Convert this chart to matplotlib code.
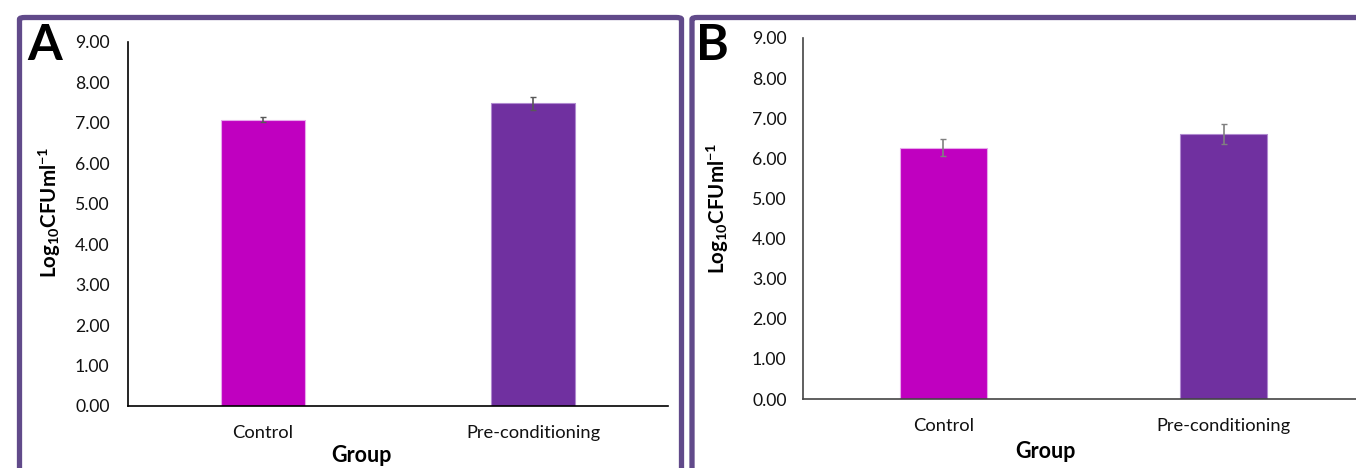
import matplotlib.pyplot as plt
from matplotlib.patches import FancyBboxPatch

plt.rcParams['font.family'] = ['Lato', 'DejaVu Sans']
plt.rcParams['mathtext.fontset'] = 'custom'
plt.rcParams['mathtext.rm'] = 'Lato'
plt.rcParams['mathtext.bf'] = 'Lato:bold'

groups = ['Control', 'Pre-conditioning']
colors = ['#C000C0', '#7030A0']
edges = ['#E8A8EC', '#B08AD0']
yticks = [0, 1, 2, 3, 4, 5, 6, 7, 8, 9]

# panel A
meansA = [7.08, 7.48]
errA = [0.06, 0.16]
# panel B
meansB = [6.27, 6.61]
errB = [0.22, 0.25]

W, H = 1356, 468
fig = plt.figure(figsize=(W / 100, H / 100), dpi=100)
frameCol = '#614A8A'


def box(x0, y0, x1, y1):
    # pixel coords from top-left -> figure fraction
    return [x0 / W, 1 - y1 / H, (x1 - x0) / W, (y1 - y0) / H]


def drawPanel(rect, means, errs, axCol, errCol, pad):
    ax = fig.add_axes(rect)
    x = list(range(len(groups)))
    ax.bar(x, means, width=0.31, color=colors, edgecolor=edges, linewidth=0.8, zorder=2)
    ax.errorbar(x, means, yerr=errs, fmt='none', ecolor=errCol, elinewidth=1.2,
                capsize=2.5, capthick=1.0, zorder=3)
    ax.set_xlim(-0.5, 1.5)
    ax.set_ylim(0, 9)
    ax.set_yticks(yticks)
    ax.set_yticklabels([f'{v:.2f}' for v in yticks], fontsize=12.7, color='#111111')
    ax.set_xticks(x)
    ax.set_xticklabels(groups, fontsize=13.2, color='#111111')
    ax.tick_params(axis='both', length=0)
    ax.tick_params(axis='y', pad=pad)
    ax.tick_params(axis='x', pad=13.5)
    for s in ['top', 'right']:
        ax.spines[s].set_visible(False)
    for s in ['left', 'bottom']:
        ax.spines[s].set_color(axCol)
        ax.spines[s].set_linewidth(1.2)
    ax.set_facecolor('none')
    return ax


drawPanel(box(128, 42, 668, 406), meansA, errA, '#000000', '#595959', 13.3)
drawPanel(box(803, 38, 1364, 399), meansB, errB, '#444444', '#808080', 11.8)

# purple frames round each panel
for x0, x1 in [(19.5, 681.5), (692, 1380)]:
    fr = FancyBboxPatch((x0 / W, -0.1), (x1 - x0) / W, 1.1 - 17.5 / H,
                        boxstyle='round,pad=0,rounding_size=0.004',
                        transform=fig.transFigure, fill=False,
                        edgecolor=frameCol, linewidth=3.8, clip_on=False)
    fig.patches.append(fr)

ylab = r'$\mathbf{Log_{10}CFUml^{-1}}$'
fig.text(50 / W, 1 - 212 / H, ylab, rotation=90, ha='center', va='center', fontsize=14.8)
fig.text(718 / W, 1 - 208 / H, ylab, rotation=90, ha='center', va='center', fontsize=14.8)
fig.text(361 / W, 1 - 456 / H, 'Group', ha='center', va='center', fontsize=15.5, fontweight='bold')
fig.text(1045 / W, 1 - 451 / H, 'Group', ha='center', va='center', fontsize=15.5, fontweight='bold')
fig.text(45 / W, 1 - 45 / H, 'A', ha='center', va='center', fontsize=36, fontweight='bold')
fig.text(712 / W, 1 - 45 / H, 'B', ha='center', va='center', fontsize=36, fontweight='bold')

fig.savefig('out.png', dpi=100)
